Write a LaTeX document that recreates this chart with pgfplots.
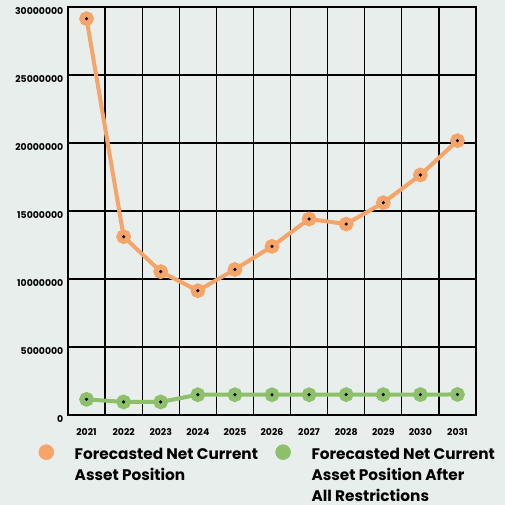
\documentclass[border=0pt]{standalone}
\usepackage{pgfplots}
\pgfplotsset{compat=1.18}
\usepackage{fontspec}
\setmainfont{Poppins}
\definecolor{bg}{RGB}{232,238,236}
\definecolor{orangeC}{RGB}{246,164,104}
\definecolor{greenC}{RGB}{140,192,106}
\begin{document}
\begin{tikzpicture}
\fill[bg] (-51pt,-67.5pt) rectangle (327.75pt,311.25pt);
\useasboundingbox (-51pt,-67.5pt) rectangle (327.75pt,311.25pt);
\begin{axis}[
  at={(0,0)}, anchor=south west,
  scale only axis, width=306pt, height=306pt,
  xmin=-0.5, xmax=10.5, ymin=0, ymax=30000000,
  xtick={0,...,10},
  xticklabels={2021,2022,2023,2024,2025,2026,2027,2028,2029,2030,2031},
  minor xtick={-0.5,0.5,...,10.5},
  ytick={0,5000000,10000000,15000000,20000000,25000000,30000000},
  scaled y ticks=false,
  yticklabel style={/pgf/number format/fixed,/pgf/number format/1000 sep={},yshift=-3pt},
  /pgf/number format/assume math mode=true,
  ticklabel style={font=\bfseries\fontsize{7}{8}\selectfont, text=black},
  xticklabel style={yshift=-6.5pt},
  major tick length=0pt, minor tick length=0pt,
  xminorgrids=true, ymajorgrids=true,
  grid style={black, line width=1pt},
  minor grid style={black, line width=1pt},
  axis line style={black, line width=1pt},
  clip=false,
  legend style={at={(-0.0826,-0.065)}, anchor=north west, draw=none, fill=none,
    legend columns=2, font=\bfseries\fontsize{11.5}{15.5}\selectfont,
    /tikz/every even column/.append style={column sep=2pt},
    /tikz/every odd column/.append style={column sep=13.5pt}},
  legend cell align=left,
]
\addplot[orangeC, line width=3pt, mark=*, mark size=4pt, mark options={fill=orangeC, draw=none}, forget plot]
coordinates {(0,29140000)(1,13110000)(2,10540000)(3,9140000)(4,10700000)(5,12400000)(6,14410000)(7,14040000)(8,15610000)(9,17650000)(10,20170000)};
\addplot[only marks, mark=*, mark size=1pt, black, forget plot]
coordinates {(0,29140000)(1,13110000)(2,10540000)(3,9140000)(4,10700000)(5,12400000)(6,14410000)(7,14040000)(8,15610000)(9,17650000)(10,20170000)};
\addplot[greenC, line width=3pt, mark=*, mark size=4pt, mark options={fill=greenC, draw=none}, forget plot]
coordinates {(0,1150000)(1,960000)(2,960000)(3,1490000)(4,1490000)(5,1490000)(6,1490000)(7,1500000)(8,1500000)(9,1500000)(10,1510000)};
\addplot[only marks, mark=*, mark size=1pt, black, forget plot]
coordinates {(0,1150000)(1,960000)(2,960000)(3,1490000)(4,1490000)(5,1490000)(6,1490000)(7,1500000)(8,1500000)(9,1500000)(10,1510000)};
\addlegendimage{legend image code/.code={\fill[orangeC] (0pt,2.2pt) circle (5.6pt);}}
\addlegendentry{\parbox[t]{146.5pt}{Forecasted Net Current\\Asset Position}}
\addlegendimage{legend image code/.code={\fill[greenC] (0pt,2.2pt) circle (5.6pt);}}
\addlegendentry{\parbox[t]{146.5pt}{Forecasted Net Current\\Asset Position After\\All Restrictions}}
\end{axis}
\end{tikzpicture}
\end{document}
